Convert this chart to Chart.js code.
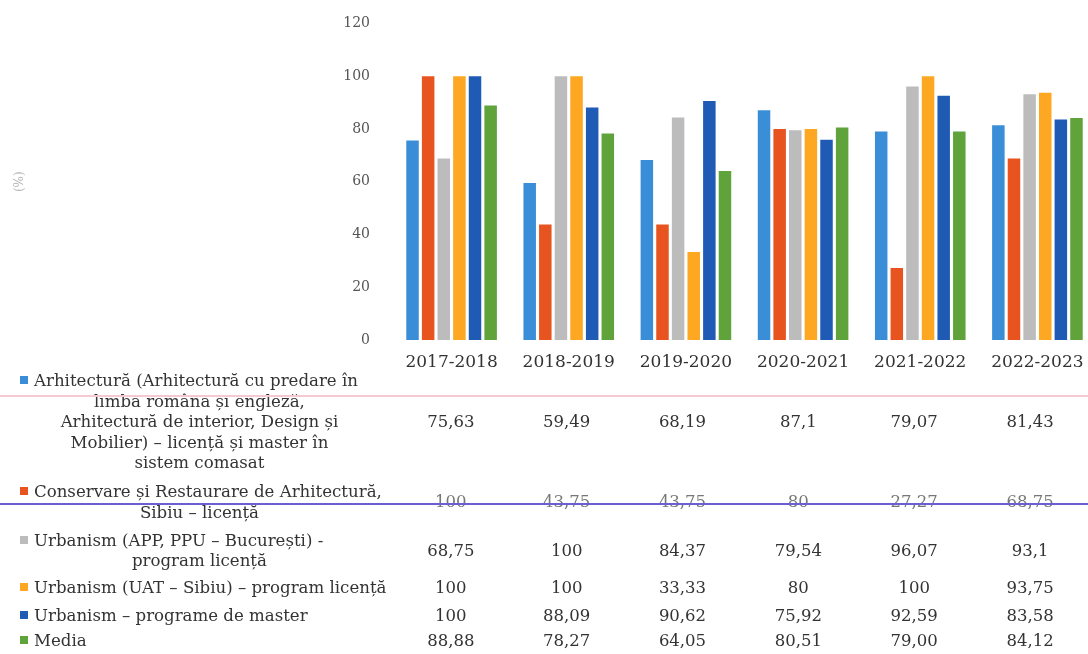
<!DOCTYPE html>
<html>
<head>
<meta charset="utf-8">
<script src="https://cdn.jsdelivr.net/npm/chart.js@4"></script>
<style>
    html, body { margin: 0; padding: 0; overflow: hidden; background: #fff; }
    body { width: 1088px; height: 654px; position: relative; font-family: "DejaVu Serif", serif; }
    #chartBox { position: absolute; left: 0; top: 0; width: 1096px; height: 372px; }
    #dataTable { position: absolute; left: 0; top: 370px; border-collapse: collapse; table-layout: fixed; color: #333; }
    #dataTable td { padding: 0; vertical-align: middle; font-size: 16.6px; line-height: 20.5px; white-space: nowrap; }
    #dataTable td.val { text-align: center; font-size: 16.5px; }
    .line1 { text-align: left; padding-left: 20px; }
    .lineN { text-align: center; padding-left: 6px; }
    .swatch { display: inline-block; width: 8px; height: 8px; margin-right: 6px; vertical-align: 2px; }
    .rule { position: absolute; left: 0; width: 1088px; }
</style>
</head>
<body>
<div id="chartBox"><canvas id="rateChart"></canvas></div>
<table id="dataTable"></table>
<div class="rule" style="top:395px;height:2px;background:#f3c9d4;"></div>
<div class="rule" style="top:503px;height:2px;background:#6c5fd3;"></div>
<script>
// Academic years (categories)
const years = ['2017-2018', '2018-2019', '2019-2020', '2020-2021', '2021-2022', '2022-2023'];

// Values per programme (%)
const arhitectura = [75.63, 59.49, 68.19, 87.1, 79.07, 81.43];
const conservare = [100, 43.75, 43.75, 80, 27.27, 68.75];
const urbanismApp = [68.75, 100, 84.37, 79.54, 96.07, 93.1];
const urbanismUat = [100, 100, 33.33, 80, 100, 93.75];
const urbanismMaster = [100, 88.09, 90.62, 75.92, 92.59, 83.58];
const media = [88.88, 78.27, 64.05, 80.51, 79.00, 84.12];

// Y axis ticks
const yTicks = [0, 20, 40, 60, 80, 100, 120];

// Legend texts, one entry per line as in the table
const seriesNames = [
    ['Arhitectură (Arhitectură cu predare în', 'limba româna și engleză,', 'Arhitectură de interior, Design și', 'Mobilier) – licență și master în', 'sistem comasat'],
    ['Conservare și Restaurare de Arhitectură,', 'Sibiu – licență'],
    ['Urbanism (APP, PPU – București) -', 'program licență'],
    ['Urbanism (UAT – Sibiu) – program licență'],
    ['Urbanism – programe de master'],
    ['Media']
];

const seriesData = [arhitectura, conservare, urbanismApp, urbanismUat, urbanismMaster, media];
const seriesColors = ['#3a8ed8', '#e8541f', '#bcbcbc', '#fda722', '#1f5bb5', '#5fa33a'];
const rowHeights = [105, 55, 42, 33, 22, 28];

const ctx = document.getElementById('rateChart').getContext('2d');
const rateChart = new Chart(ctx, {
    type: 'bar',
    data: {
        labels: years,
        datasets: seriesData.map((values, i) => ({
            label: seriesNames[i].join(' '),
            data: values,
            backgroundColor: seriesColors[i],
            borderWidth: 0
        }))
    },
    options: {
        responsive: true,
        maintainAspectRatio: false,
        animation: false,
        categoryPercentage: 0.8,
        barPercentage: 0.8,
        layout: {
            padding: { left: 0, right: 0, top: 22, bottom: 0 }
        },
        scales: {
            x: {
                grid: { display: false },
                border: { display: false },
                ticks: {
                    padding: 4,
                    color: '#333',
                    font: { family: 'DejaVu Serif', size: 17 }
                },
                afterFit: function(scale) { scale.height = 32; }
            },
            y: {
                min: 0,
                max: 120,
                grid: { display: false },
                border: { display: false },
                afterBuildTicks: function(scale) {
                    scale.ticks = yTicks.map(v => ({ value: v }));
                },
                ticks: {
                    padding: 15,
                    color: '#555',
                    font: { family: 'DejaVu Serif', size: 14 }
                },
                title: {
                    display: true,
                    text: '(%)',
                    color: '#b5b5b5',
                    padding: { top: 13, bottom: 0 },
                    font: { family: 'DejaVu Serif', size: 12 }
                },
                afterFit: function(scale) { scale.width = 393; }
            }
        },
        plugins: {
            legend: { display: false },
            tooltip: { enabled: false }
        }
    }
});

// Data table below the chart
function formatValue(v, row) {
    const txt = row === 5 ? v.toFixed(2) : String(v);
    return txt.replace('.', ',');
}

const table = document.getElementById('dataTable');
let colgroup = '<colgroup><col style="width:393px">';
years.forEach(() => { colgroup += '<col style="width:117px">'; });
colgroup += '</colgroup>';
let rows = '';
seriesData.forEach((values, i) => {
    let legendHtml = '';
    seriesNames[i].forEach((line, j) => {
        if (j === 0) {
            legendHtml += '<div class="line1"><span class="swatch" style="background:' + seriesColors[i] + '"></span>' + line + '</div>';
        } else {
            legendHtml += '<div class="lineN">' + line + '</div>';
        }
    });
    rows += '<tr style="height:' + rowHeights[i] + 'px"><td>' + legendHtml + '</td>';
    values.forEach(v => {
        const col = i === 1 ? ' style="color:#777"' : '';
        rows += '<td class="val"' + col + '>' + formatValue(v, i) + '</td>';
    });
    rows += '</tr>';
});
table.innerHTML = colgroup + rows;
</script>
</body>
</html>
